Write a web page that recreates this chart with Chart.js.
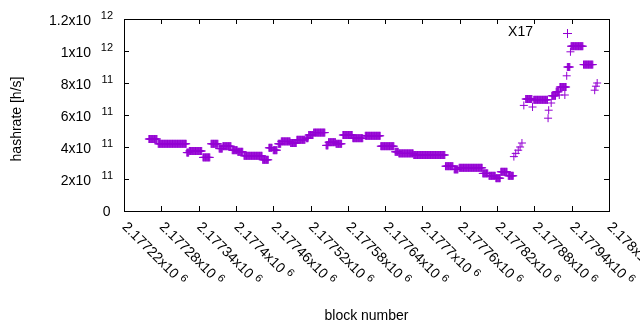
<!DOCTYPE html>
<html>
<head>
<meta charset="utf-8">
<script src="https://cdn.jsdelivr.net/npm/chart.js@4.4.1/dist/chart.umd.min.js"></script>
<style>
  html, body { margin: 0; padding: 0; background: #fff; }
  #wrap { width: 640px; height: 330px; }
</style>
</head>
<body>
<div id="wrap"><canvas id="chart-hashrate" width="640" height="330"></canvas></div>
<script>
// block ticks (every 60 blocks) and their labels, mantissa x10^6
const xTicks = [2177220, 2177280, 2177340, 2177400, 2177460, 2177520, 2177580,
                2177640, 2177700, 2177760, 2177820, 2177880, 2177940, 2178000];
const xTickLabels = ['2.17722', '2.17728', '2.17734', '2.1774', '2.17746', '2.17752', '2.17758',
                     '2.17764', '2.1777', '2.17776', '2.17782', '2.17788', '2.17794', '2.178'];
const xTickExp = '6';

const yTicks = [0, 2e11, 4e11, 6e11, 8e11, 1e12, 1.2e12];
const yTickLabels = ['0', '2', '4', '6', '8', '1', '1.2'];
const yTickExp = [null, '11', '11', '11', '11', '12', '12'];

// hashrate stays flat over runs of blocks: first block, last block, value
const runStart = [2177260, 2177275, 2177321, 2177325, 2177347, 2177360, 2177373, 2177379,
                  2177394, 2177403, 2177413, 2177443, 2177453, 2177460, 2177468, 2177473,
                  2177488, 2177498, 2177513, 2177517, 2177525, 2177545, 2177549, 2177561,
                  2177572, 2177588, 2177608, 2177633, 2177656, 2177662, 2177686, 2177737,
                  2177751, 2177759, 2177797, 2177807, 2177818, 2177826, 2177838,
                  2177847, 2177850, 2177854, 2177857, 2177860, 2177863, 2177866, 2177877,
                  2177879, 2177902, 2177903, 2177907, 2177908, 2177915, 2177920, 2177929,
                  2177921, 2177932, 2177933, 2177938, 2177939, 2177959, 2177977, 2177979, 2177981];
const runEnd   = [2177273, 2177320, 2177324, 2177345, 2177358, 2177371, 2177378, 2177392,
                  2177402, 2177411, 2177442, 2177452, 2177458, 2177466, 2177472, 2177487,
                  2177497, 2177511, 2177516, 2177524, 2177543, 2177548, 2177560, 2177570,
                  2177587, 2177604, 2177632, 2177654, 2177661, 2177685, 2177736, 2177749,
                  2177757, 2177796, 2177805, 2177817, 2177825, 2177836, 2177846,
                  2177847, 2177850, 2177854, 2177857, 2177860, 2177863, 2177876, 2177877,
                  2177901, 2177902, 2177903, 2177907, 2177914, 2177919, 2177920, 2177929,
                  2177931, 2177932, 2177937, 2177938, 2177958, 2177974, 2177977, 2177979, 2177981];
const runValue = [4.5e11, 4.2e11, 3.65e11, 3.75e11, 3.35e11, 4.2e11, 3.9e11, 4.05e11,
                  3.8e11, 3.7e11, 3.45e11, 3.2e11, 3.95e11, 3.8e11, 4.2e11, 4.35e11,
                  4.25e11, 4.45e11, 4.55e11, 4.75e11, 4.9e11, 4.1e11, 4.3e11, 4.2e11,
                  4.75e11, 4.55e11, 4.7e11, 4.05e11, 3.7e11, 3.6e11, 3.5e11, 2.8e11,
                  2.6e11, 2.7e11, 2.35e11, 2.2e11, 2.05e11, 2.45e11, 2.2e11,
                  3.4e11, 3.6e11, 3.8e11, 4.0e11, 4.25e11, 6.6e11, 7.0e11, 6.5e11,
                  6.95e11, 5.8e11, 6.3e11, 6.75e11, 7.2e11, 7.45e11, 7.25e11, 7.25e11,
                  7.75e11, 8.45e11, 9.0e11, 9.95e11, 1.03e12, 9.15e11, 7.55e11, 7.8e11, 8.0e11];

const purple = '#9400D3';
const font = '"Liberation Sans", Arial, sans-serif';

const points = [];
runStart.forEach((s, i) => {
  for (let b = s; b <= runEnd[i]; b++) points.push({ x: b, y: runValue[i] });
});

// gnuplot look: closed frame, inward ticks, x10^n labels
const gnuplotFrame = {
  id: 'gnuplotFrame',
  afterDraw(chart) {
    const ctx = chart.ctx;
    const a = chart.chartArea;
    const xs = chart.scales.x;
    const ys = chart.scales.y;
    const tl = 5;
    ctx.save();
    ctx.strokeStyle = '#000';
    ctx.lineWidth = 1;
    ctx.strokeRect(a.left + 0.5, a.top + 0.5, a.right - a.left, a.bottom - a.top);

    ctx.beginPath();
    xTicks.forEach(t => {
      const px = Math.round(xs.getPixelForValue(t)) + 0.5;
      ctx.moveTo(px, a.bottom); ctx.lineTo(px, a.bottom - tl);
      ctx.moveTo(px, a.top); ctx.lineTo(px, a.top + tl);
    });
    yTicks.forEach(t => {
      const py = Math.round(ys.getPixelForValue(t)) + 0.5;
      ctx.moveTo(a.left, py); ctx.lineTo(a.left + tl, py);
      ctx.moveTo(a.right, py); ctx.lineTo(a.right - tl, py);
    });
    ctx.stroke();

    ctx.fillStyle = '#000';
    ctx.textBaseline = 'middle';

    // y tick labels
    yTicks.forEach((t, i) => {
      const py = ys.getPixelForValue(t);
      ctx.textAlign = 'right';
      if (yTickExp[i] === null) {
        ctx.font = '14px ' + font;
        ctx.fillText(yTickLabels[i], 110.5, py + 1);
      } else {
        ctx.font = '14px ' + font;
        ctx.fillText(yTickLabels[i] + 'x10', 91, py + 2);
        ctx.font = '11px ' + font;
        ctx.fillText(yTickExp[i], 113, py - 3);
      }
    });

    // x tick labels, rotated -45 deg (down to the right)
    xTicks.forEach((t, i) => {
      const px = xs.getPixelForValue(t);
      ctx.save();
      ctx.translate(px + 1, 224);
      ctx.rotate(Math.PI / 4);
      ctx.textAlign = 'left';
      ctx.font = '14px ' + font;
      const main = xTickLabels[i] + 'x10';
      ctx.fillText(main, 0, 1);
      const w = ctx.measureText(main).width;
      ctx.font = '11px ' + font;
      ctx.fillText(xTickExp, w + 4, -3);
      ctx.restore();
    });

    // axis titles
    ctx.font = '14px ' + font;
    ctx.textAlign = 'center';
    ctx.fillText('block number', (a.left + a.right) / 2, 316);
    ctx.save();
    ctx.translate(17, 119);
    ctx.rotate(-Math.PI / 2);
    ctx.fillText('hashrate [h/s]', 0, 0);
    ctx.restore();

    // key
    ctx.textAlign = 'right';
    ctx.fillText(chart.data.datasets[0].label, 533, 32);
    ctx.strokeStyle = purple;
    ctx.beginPath();
    ctx.moveTo(563, 33.5); ctx.lineTo(572, 33.5);
    ctx.moveTo(567.5, 29); ctx.lineTo(567.5, 38);
    ctx.stroke();
    ctx.restore();
  }
};

new Chart(document.getElementById('chart-hashrate'), {
  type: 'scatter',
  data: {
    datasets: [
      {
        label: 'X17',
        data: points,
        pointStyle: 'cross',
        pointRadius: 4,
        borderColor: purple,
        backgroundColor: purple,
        borderWidth: 1,
        showLine: false,
      },
    ],
  },
  options: {
    responsive: false,
    animation: false,
    layout: { padding: { top: 19, right: 31, left: 0, bottom: 0 } },
    plugins: {
      legend: { display: false },
      tooltip: { enabled: false },
    },
    scales: {
      x: {
        type: 'linear',
        min: 2177220,
        max: 2178000,
        ticks: { display: false },
        grid: { display: false },
        border: { display: false },
        afterFit(s) { s.height = 119; },
      },
      y: {
        min: 0,
        max: 1.2e12,
        ticks: { display: false },
        grid: { display: false },
        border: { display: false },
        afterFit(s) { s.width = 124; },
      },
    },
  },
  plugins: [gnuplotFrame],
});
</script>
</body>
</html>
